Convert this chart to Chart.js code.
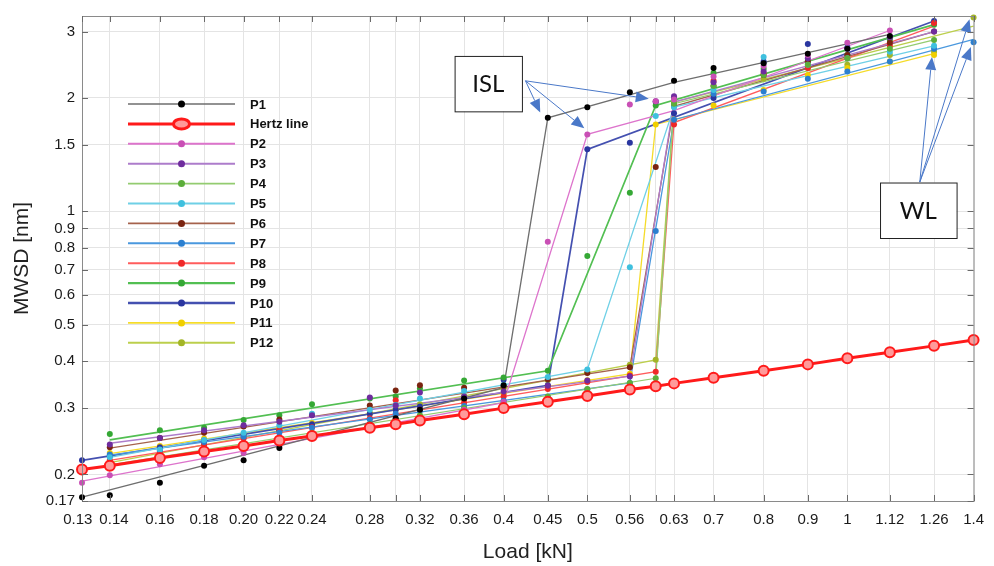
<!DOCTYPE html>
<html>
<head>
<meta charset="utf-8">
<script src="https://cdn.jsdelivr.net/npm/chart.js@4.4.1/dist/chart.umd.min.js"></script>
<style>
  html, body { margin: 0; padding: 0; background: #fff; }
  #wrap { width: 994px; height: 566px; }
</style>
</head>
<body>
<div id="wrap"><canvas id="mwsdChart" width="994" height="566"></canvas></div>
<script>
// load steps [kN]
const loads = [0.13, 0.14, 0.16, 0.18, 0.20, 0.22, 0.24, 0.28, 0.30, 0.32, 0.36, 0.4,
               0.45, 0.5, 0.56, 0.6, 0.63, 0.7, 0.8, 0.9, 1, 1.12, 1.26, 1.4];
// the first two labels are nudged apart with spaces, as in the original figure
const xTickLabels = ["0.13  ", "  0.14", "0.16", "0.18", "0.20", "0.22", "0.24", "0.28", "", "0.32", "0.36", "0.4",
                     "0.45", "0.5", "0.56", "", "0.63", "0.7", "0.8", "0.9", "1", "1.12", "1.26", "1.4"];
const yTicks = [0.17, 0.2, 0.3, 0.4, 0.5, 0.6, 0.7, 0.8, 0.9, 1, 1.5, 2, 3];

// MWSD [nm], one value per load step (null = no marker)
const hertz = [0.206, 0.211, 0.221, 0.230, 0.238, 0.246, 0.253, 0.266, 0.272, 0.278, 0.289, 0.300,
               0.312, 0.323, 0.336, 0.343, 0.349, 0.361, 0.377, 0.392, 0.407, 0.422, 0.439, 0.455];

const p1Dots  = [0.174, 0.176, 0.190, 0.211, 0.218, 0.235, 0.252, 0.271, 0.282, 0.297, 0.318, 0.345,
                 1.77, 1.89, 2.07, null, 2.22, 2.40, 2.47, 2.62, 2.70, 2.92, null, null];
const p2Dots  = [0.190, 0.199, 0.213, 0.222, 0.228, 0.238, 0.251, 0.265, 0.276, 0.281, 0.297, 0.312,
                 0.83, 1.60, 1.92, 1.96, 1.98, 2.28, 2.43, 2.60, 2.80, 3.02, null, null];
const p3Dots  = [null, 0.240, 0.250, 0.262, 0.270, 0.276, 0.287, 0.320, 0.305, 0.330, 0.322, 0.332,
                 0.344, 0.355, 0.364, 1.96, 2.02, 2.20, 2.35, 2.55, 2.70, 2.90, 3.00, null];
const p4Dots  = [null, 0.210, 0.222, 0.227, 0.240, 0.249, 0.258, 0.272, 0.280, 0.287, 0.300, 0.310,
                 0.322, 0.337, 0.350, 0.360, 1.93, 2.15, 2.30, 2.45, 2.55, 2.70, 2.85, null];
const p5Dots  = [null, 0.222, 0.233, 0.247, 0.258, 0.270, 0.290, 0.297, 0.306, 0.318, 0.333, 0.346,
                 0.363, 0.380, 0.71, 1.79, 1.89, 2.10, 2.57, 2.45, 2.55, 2.65, 2.75, null];
const p6Dots  = [null, 0.236, 0.250, 0.258, 0.268, 0.280, 0.288, 0.305, 0.334, 0.345, 0.340, 0.343,
                 0.358, 0.372, 0.385, 1.31, 1.90, 2.15, 2.30, 2.50, 2.60, 2.80, 3.00, null];
const p7Dots  = [null, 0.226, 0.232, 0.244, 0.252, 0.258, 0.266, 0.280, 0.290, 0.295, 0.304, 0.314,
                 0.320, 0.336, 0.350, 0.886, 1.75, 2.05, 2.08, 2.25, 2.35, 2.50, 2.70, 2.81];
const p8Dots  = [null, 0.218, 0.230, 0.240, 0.249, 0.263, 0.267, 0.282, 0.315, 0.297, 0.310, 0.322,
                 0.337, 0.352, 0.366, 0.375, 1.70, 2.22, 2.32, 2.40, 2.55, 2.75, 3.16, null];
const p9Dots  = [null, 0.256, 0.262, 0.266, 0.279, 0.287, 0.307, 0.318, 0.322, 0.338, 0.355, 0.362,
                 0.377, 0.76, 1.12, 1.91, 2.00, 2.33, 2.39, 2.50, 2.60, 2.85, 3.13, null];
const p10Dots = [0.218, 0.224, 0.236, 0.246, 0.255, 0.262, 0.272, 0.290, 0.297, 0.303, 0.318, 0.357,
                 0.345, 1.46, 1.52, 1.95, 1.82, 2.00, 2.50, 2.78, 2.72, 2.90, 3.20, null];
const p11Dots = [null, 0.228, 0.238, 0.249, 0.256, 0.266, 0.274, 0.291, 0.297, 0.303, 0.317, 0.328,
                 0.343, 0.356, 0.370, 1.70, 1.75, 1.91, 2.10, 2.30, 2.40, 2.50, 2.60, null];
const p12Dots = [null, 0.215, 0.228, 0.240, 0.251, 0.261, 0.271, 0.290, 0.299, 0.307, 0.323, 0.338,
                 0.356, 0.373, 0.391, 0.403, 1.95, 2.03, 2.25, 2.40, 2.45, 2.60, 2.65, 3.27];

// fitted lines: [load, MWSD] vertices
const p1Fit  = [[0.13, 0.174], [0.4, 0.34], [0.45, 1.77], [0.63, 2.2], [1.12, 2.95]];
const p2Fit  = [[0.13, 0.192], [0.4, 0.31], [0.5, 1.6], [0.63, 1.85], [1.12, 3.02]];
const p3Fit  = [[0.14, 0.242], [0.56, 0.365], [0.63, 1.95], [1.26, 3.0]];
const p4Fit  = [[0.14, 0.212], [0.6, 0.36], [0.63, 1.93], [1.26, 2.85]];
const p5Fit  = [[0.14, 0.222], [0.5, 0.38], [0.63, 1.89], [1.26, 2.75]];
const p6Fit  = [[0.14, 0.235], [0.56, 0.385], [0.63, 1.9], [1.26, 3.0]];
const p7Fit  = [[0.14, 0.225], [0.56, 0.35], [0.63, 1.75], [1.4, 2.86]];
const p8Fit  = [[0.14, 0.218], [0.6, 0.375], [0.63, 1.72], [1.26, 3.1]];
const p9Fit  = [[0.14, 0.247], [0.45, 0.377], [0.6, 1.91], [1.26, 3.13]];
const p10Fit = [[0.13, 0.218], [0.45, 0.345], [0.5, 1.46], [1.26, 3.2]];
const p11Fit = [[0.14, 0.227], [0.56, 0.37], [0.6, 1.70], [1.26, 2.62]];
const p12Fit = [[0.14, 0.215], [0.6, 0.403], [0.63, 1.95], [1.4, 3.1]];

const series = [
  { name: "P1",  dots: p1Dots,  fit: p1Fit,  line: "#6e6e6e", dot: "#000000", width: 1.3 },
  { name: "P2",  dots: p2Dots,  fit: p2Fit,  line: "#dd74cc", dot: "#c94fb5", width: 1.3 },
  { name: "P3",  dots: p3Dots,  fit: p3Fit,  line: "#ad7ccb", dot: "#6f2c9e", width: 1.3 },
  { name: "P4",  dots: p4Dots,  fit: p4Fit,  line: "#93cc70", dot: "#5cae3a", width: 1.3 },
  { name: "P5",  dots: p5Dots,  fit: p5Fit,  line: "#6fd0e6", dot: "#3fc0de", width: 1.3 },
  { name: "P6",  dots: p6Dots,  fit: p6Fit,  line: "#a5624c", dot: "#7b2410", width: 1.3 },
  { name: "P7",  dots: p7Dots,  fit: p7Fit,  line: "#4a98de", dot: "#2b7fd0", width: 1.3 },
  { name: "P8",  dots: p8Dots,  fit: p8Fit,  line: "#ff5c5c", dot: "#f02828", width: 1.3 },
  { name: "P9",  dots: p9Dots,  fit: p9Fit,  line: "#52bf52", dot: "#35a835", width: 1.7 },
  { name: "P10", dots: p10Dots, fit: p10Fit, line: "#4450b0", dot: "#2a36a0", width: 1.7 },
  { name: "P11", dots: p11Dots, fit: p11Fit, line: "#f5dc2a", dot: "#f0cf00", width: 1.3 },
  { name: "P12", dots: p12Dots, fit: p12Fit, line: "#bccf4c", dot: "#a3b526", width: 1.3 }
];
const hertzColor = "#ff1a1a";

function toPoints(values) {
  return loads.map((x, i) => values[i] == null ? null : { x: x, y: values[i] }).filter(p => p);
}
function fitPoints(pairs) {
  return pairs.map(p => ({ x: p[0], y: p[1] }));
}

const datasets = [];
datasets.push({
  label: "Hertz line",
  data: toPoints(hertz),
  borderColor: hertzColor,
  borderWidth: 3,
  pointRadius: 5,
  pointBorderWidth: 2,
  pointBorderColor: hertzColor,
  pointBackgroundColor: "#ff9a9a",
  tension: 0,
  clip: false
});
series.forEach(s => {
  datasets.push({
    label: s.name + " data",
    data: toPoints(s.dots),
    showLine: false,
    pointRadius: 3,
    pointBorderWidth: 0,
    pointBackgroundColor: s.dot,
    borderColor: s.dot,
    clip: false
  });
});
series.forEach(s => {
  datasets.push({
    label: s.name,
    data: fitPoints(s.fit),
    borderColor: s.line,
    borderWidth: s.width,
    pointRadius: 0,
    tension: 0,
    clip: false
  });
});

// legend drawn like the MATLAB one: a line with the marker in the middle
const sideLegend = {
  id: "sideLegend",
  afterDatasetsDraw(chart) {
    const ctx = chart.ctx;
    const area = chart.chartArea;
    const entries = [{ name: "P1", line: series[0].line, dot: series[0].dot, width: 1.3 }]
      .concat([{ name: "Hertz line", hertz: true }])
      .concat(series.slice(1).map(s => ({ name: s.name, line: s.line, dot: s.dot, width: s.width + 0.6 })));
    const x0 = area.left + 46, x1 = area.left + 153, xm = (x0 + x1) / 2;
    let y = area.top + 88;
    ctx.save();
    ctx.font = "bold 13px 'Liberation Sans', Arial, sans-serif";
    ctx.textBaseline = "middle";
    entries.forEach(e => {
      if (e.hertz) {
        ctx.strokeStyle = hertzColor;
        ctx.lineWidth = 3;
        ctx.beginPath(); ctx.moveTo(x0, y); ctx.lineTo(x1, y); ctx.stroke();
        ctx.fillStyle = "#ff9a9a";
        ctx.lineWidth = 3;
        ctx.beginPath(); ctx.ellipse(xm, y, 8, 5, 0, 0, Math.PI * 2); ctx.fill(); ctx.stroke();
      } else {
        ctx.strokeStyle = e.line;
        ctx.lineWidth = e.width;
        ctx.beginPath(); ctx.moveTo(x0, y); ctx.lineTo(x1, y); ctx.stroke();
        ctx.fillStyle = e.dot;
        ctx.beginPath(); ctx.arc(xm, y, 3.5, 0, Math.PI * 2); ctx.fill();
      }
      ctx.fillStyle = "#111";
      ctx.fillText(e.name, x1 + 15, y + 1);
      y += 19.9;
    });
    ctx.restore();
  }
};

// ISL / WL call-outs, anchored in data space
const islBox = { x: [0.351, 0.42], y: [1.842, 2.585], text: "ISL" };
const islFrom = [0.424, 2.22];
const islTips = [[0.441, 1.83], [0.496, 1.66], [0.589, 1.99]];
const wlBox = { x: [1.091, 1.338], y: [0.849, 1.192], text: "WL" };
const wlFrom = [1.213, 1.195];
const wlTips = [[1.253, 2.57], [1.385, 3.234], [1.39, 2.73]];

function drawArrow(ctx, fx, fy, tx, ty) {
  const ang = Math.atan2(ty - fy, tx - fx);
  const len = 13, half = 5.5;
  const bx = tx - len * Math.cos(ang), by = ty - len * Math.sin(ang);
  ctx.beginPath(); ctx.moveTo(fx, fy); ctx.lineTo(bx, by); ctx.stroke();
  ctx.beginPath();
  ctx.moveTo(tx, ty);
  ctx.lineTo(bx + half * Math.sin(ang), by - half * Math.cos(ang));
  ctx.lineTo(bx - half * Math.sin(ang), by + half * Math.cos(ang));
  ctx.closePath(); ctx.fill();
}

const callouts = {
  id: "callouts",
  afterDatasetsDraw(chart) {
    const ctx = chart.ctx;
    const sx = chart.scales.x, sy = chart.scales.y;
    ctx.save();
    [[islBox, islFrom, islTips], [wlBox, wlFrom, wlTips]].forEach(([box, from, tips]) => {
      const fx = sx.getPixelForValue(from[0]), fy = sy.getPixelForValue(from[1]);
      ctx.strokeStyle = "#4a78c8"; ctx.fillStyle = "#4a78c8"; ctx.lineWidth = 1;
      tips.forEach(t => drawArrow(ctx, fx, fy, sx.getPixelForValue(t[0]), sy.getPixelForValue(t[1])));
      const l = sx.getPixelForValue(box.x[0]), r = sx.getPixelForValue(box.x[1]);
      const t = sy.getPixelForValue(box.y[1]), b = sy.getPixelForValue(box.y[0]);
      ctx.fillStyle = "#fff"; ctx.fillRect(l, t, r - l, b - t);
      ctx.strokeStyle = "#222"; ctx.lineWidth = 1; ctx.strokeRect(l + 0.5, t + 0.5, r - l, b - t);
      ctx.fillStyle = "#111";
      ctx.font = "24px Lato, 'Open Sans', sans-serif";
      ctx.textAlign = "center"; ctx.textBaseline = "middle";
      ctx.fillText(box.text, (l + r) / 2, (t + b) / 2 + 1);
    });
    ctx.restore();
  }
};

// box frame and inward tick marks
const frame = {
  id: "frame",
  afterDraw(chart) {
    const ctx = chart.ctx, a = chart.chartArea;
    const sx = chart.scales.x, sy = chart.scales.y;
    ctx.save();
    ctx.strokeStyle = "#8a8a8a"; ctx.lineWidth = 1;
    ctx.strokeRect(a.left + 0.5, a.top + 0.5, a.right - a.left, a.bottom - a.top);
    ctx.strokeStyle = "#6a6a6a";
    ctx.beginPath();
    loads.forEach(v => {
      const px = Math.round(sx.getPixelForValue(v)) + 0.5;
      ctx.moveTo(px, a.bottom); ctx.lineTo(px, a.bottom - 6);
      ctx.moveTo(px, a.top); ctx.lineTo(px, a.top + 6);
    });
    yTicks.forEach(v => {
      const py = Math.round(sy.getPixelForValue(v)) + 0.5;
      ctx.moveTo(a.left, py); ctx.lineTo(a.left + 6, py);
      ctx.moveTo(a.right, py); ctx.lineTo(a.right - 6, py);
    });
    ctx.stroke();
    ctx.restore();
  }
};

Chart.defaults.font.family = "'Liberation Sans', Arial, sans-serif";
Chart.defaults.color = "#222";

new Chart(document.getElementById("mwsdChart"), {
  type: "line",
  data: { datasets: datasets },
  options: {
    responsive: false,
    animation: false,
    devicePixelRatio: 1,
    layout: { padding: { top: 15, right: 15, left: 0, bottom: 0 } },
    plugins: {
      legend: { display: false },
      tooltip: { enabled: false }
    },
    scales: {
      x: {
        type: "logarithmic",
        min: 0.13,
        max: 1.4,
        afterBuildTicks: scale => { scale.ticks = loads.map(v => ({ value: v })); },
        afterFit: scale => { scale.height = 65; },
        ticks: {
          autoSkip: false,
          maxRotation: 0,
          padding: 10,
          font: { size: 15 },
          color: "#1a1a1a",
          callback: (value, index) => xTickLabels[index]
        },
        grid: { color: "#e4e4e4", drawTicks: false },
        border: { color: "#8a8a8a" },
        title: { display: true, text: "Load [kN]", font: { size: 21 }, color: "#222", padding: { top: 0, bottom: 1 } }
      },
      y: {
        type: "logarithmic",
        min: 0.17,
        max: 3.3,
        afterBuildTicks: scale => { scale.ticks = yTicks.map(v => ({ value: v })); },
        afterFit: scale => { scale.width = 82; },
        ticks: {
          autoSkip: false,
          padding: 7,
          font: { size: 15 },
          color: "#1a1a1a",
          callback: (value, index) => String(yTicks[index])
        },
        grid: { color: "#e4e4e4", drawTicks: false },
        border: { color: "#8a8a8a" },
        title: { display: true, text: "MWSD [nm]", font: { size: 21 }, color: "#222", padding: { top: 10, bottom: 0 } }
      }
    }
  },
  plugins: [sideLegend, callouts, frame]
});
</script>
</body>
</html>
